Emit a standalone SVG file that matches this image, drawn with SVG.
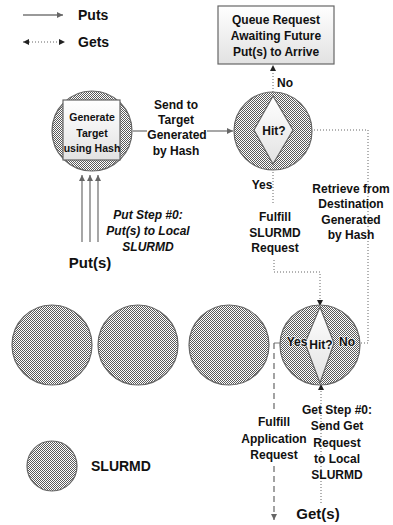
<svg xmlns="http://www.w3.org/2000/svg" width="393" height="525" viewBox="0 0 393 525">
<style>
.t{font-family:"Liberation Sans",Arial,sans-serif;font-weight:bold;font-size:12px;fill:#111;text-anchor:middle;dominant-baseline:central}
.ti{font-style:italic}
.big{font-size:15px}
.leg{font-size:14px;text-anchor:start}
.node{fill:url(#hatch);stroke:#666;stroke-width:1.2}
.solid{fill:none;stroke:#777;stroke-width:1.3}
.dot{fill:none;stroke:#666;stroke-width:1;stroke-dasharray:1 2}
.dash{fill:none;stroke:#666;stroke-width:1.2;stroke-dasharray:6 4}
.box{fill:url(#lg);stroke:#666;stroke-width:1.2}
.halo{paint-order:stroke;stroke:#fff;stroke-width:1.5;stroke-opacity:0.7}
</style>
<defs>
<pattern id="hatch" width="2" height="2" patternUnits="userSpaceOnUse">
<rect width="2" height="2" fill="#fff"/>
<rect width="1" height="1" fill="#5a5a5a"/>
<rect x="1" y="1" width="1" height="1" fill="#5a5a5a"/>
</pattern>
<linearGradient id="lg" x1="0" y1="0" x2="0" y2="1">
<stop offset="0" stop-color="#ffffff"/>
<stop offset="1" stop-color="#e2e2e2"/>
</linearGradient>
<marker id="ah" viewBox="0 0 10 10" refX="10" refY="5" markerWidth="7" markerHeight="6" markerUnits="userSpaceOnUse" orient="auto-start-reverse">
<path d="M0,0 L10,5 L0,10 z" fill="#222"/>
</marker>
<marker id="ahg" viewBox="0 0 10 10" refX="10" refY="5" markerWidth="7" markerHeight="6" markerUnits="userSpaceOnUse" orient="auto-start-reverse">
<path d="M0,0 L10,5 L0,10 z" fill="#666"/>
</marker>
</defs>

<g id="legend">
<line class="solid" x1="23" y1="15" x2="63" y2="15" marker-end="url(#ahg)"/>
<text class="t leg" x="78" y="15">Puts</text>
<line class="dot" x1="23" y1="42" x2="65" y2="42" marker-start="url(#ah)" marker-end="url(#ah)"/>
<text class="t leg" x="78" y="42">Gets</text>
<g id="legend-slurmd">
<circle class="node" cx="52" cy="466" r="25"/>
<text class="t leg" x="91" y="466">SLURMD</text>
</g>
</g>

<g id="connectors">
<line class="solid" x1="82" y1="242" x2="82" y2="175" marker-end="url(#ahg)"/>
<line class="solid" x1="90" y1="242" x2="90" y2="175" marker-end="url(#ahg)"/>
<line class="solid" x1="98" y1="242" x2="98" y2="175" marker-end="url(#ahg)"/>
<line class="solid" x1="133" y1="131" x2="147" y2="131"/>
<line class="solid" x1="207" y1="131" x2="233" y2="131" marker-end="url(#ahg)"/>
<line class="dot" x1="273" y1="92" x2="273" y2="65" marker-end="url(#ah)"/>
<polyline class="dot" points="273,163 273,203"/>
<polyline class="dot" points="274,260 274,272 320,272 320,306" marker-end="url(#ah)"/>
<polyline class="dot" points="334,343 368,343 368,130 294,130" marker-end="url(#ah)"/>
<line class="dot" x1="321" y1="503" x2="321" y2="384" marker-end="url(#ah)"/>
<line class="solid" x1="305" y1="343" x2="274" y2="343" style="stroke-width:1"/>
<line class="dash" x1="274" y1="343" x2="274" y2="411"/>
<line class="dash" x1="274" y1="466" x2="274" y2="520" marker-end="url(#ahg)"/>
</g>

<g id="queue">
<rect class="box" x="218" y="6" width="116" height="58"/>
<text class="t" x="276" y="20">Queue Request</text>
<text class="t" x="276" y="36">Awaiting Future</text>
<text class="t" x="276" y="52">Put(s) to Arrive</text>
</g>

<g id="generate">
<circle class="node" cx="92" cy="131" r="40"/>
<rect class="box" x="63" y="100" width="57" height="60"/>
<text class="t" x="92" y="117" style="font-size:10.5px">Generate</text>
<text class="t" x="92" y="133" style="font-size:10.5px">Target</text>
<text class="t" x="92" y="148" style="font-size:10.5px">using Hash</text>
</g>

<g id="hit-top">
<circle class="node" cx="273" cy="131" r="39"/>
<polygon class="box" points="273,96 293,130 273,164 254,130"/>
<text class="t" x="274" y="131">Hit?</text>
</g>

<g id="slurmd-1"><circle class="node" cx="52" cy="345" r="40"/></g>
<g id="slurmd-2"><circle class="node" cx="138" cy="345" r="40"/></g>
<g id="slurmd-3"><circle class="node" cx="229" cy="345" r="40"/></g>
<g id="hit-bottom">
<circle class="node" cx="320" cy="345" r="40"/>
<polygon class="box" points="320,307 334,343 320,383 305,343"/>
<text class="t" x="321" y="345">Hit?</text>
<text class="t halo" x="297" y="342">Yes</text>
<text class="t halo" x="347" y="342">No</text>
</g>

<g id="labels">
<text class="t" x="176" y="105">Send to</text>
<text class="t" x="176" y="120">Target</text>
<text class="t" x="177" y="135">Generated</text>
<text class="t" x="176" y="151">by Hash</text>
<text class="t" x="285" y="83">No</text>
<text class="t" x="262" y="185">Yes</text>
<text class="t" x="275" y="217">Fulfill</text>
<text class="t" x="275" y="233">SLURMD</text>
<text class="t" x="275" y="248">Request</text>
<text class="t" x="351" y="189">Retrieve from</text>
<text class="t" x="351" y="204">Destination</text>
<text class="t" x="351" y="220">Generated</text>
<text class="t" x="351" y="235">by Hash</text>
<text class="t ti" x="148" y="215">Put Step #0:</text>
<text class="t ti" x="148" y="231">Put(s) to Local</text>
<text class="t ti" x="148" y="247">SLURMD</text>
<text class="t big" x="90" y="262">Put(s)</text>
<text class="t" x="274" y="422">Fulfill</text>
<text class="t" x="274" y="439">Application</text>
<text class="t" x="274" y="455">Request</text>
<text class="t" x="337" y="410">Get Step #0:</text>
<text class="t" x="337" y="426">Send Get</text>
<text class="t" x="337" y="443">Request</text>
<text class="t" x="337" y="459">to Local</text>
<text class="t" x="337" y="475">SLURMD</text>
<text class="t big" x="318" y="513">Get(s)</text>
</g>
</svg>
